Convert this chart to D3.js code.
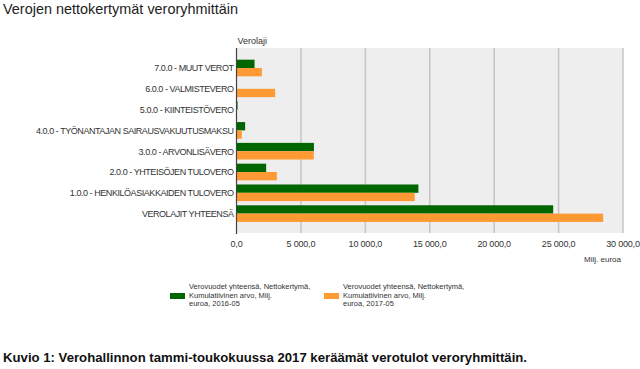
<!DOCTYPE html>
<html>
<head>
<meta charset="utf-8">
<script src="https://cdn.jsdelivr.net/npm/d3@7"></script>
<style>
  body { margin: 0; background: #fff; }
  svg { display: block; font-family: "Liberation Sans", Arial, sans-serif; }
</style>
</head>
<body>
<div id="chart"></div>
<script>
// categories, top to bottom
const categories = [
  "7.0.0 - MUUT VEROT",
  "6.0.0 - VALMISTEVERO",
  "5.0.0 - KIINTEISTÖVERO",
  "4.0.0 - TYÖNANTAJAN SAIRAUSVAKUUTUSMAKSU",
  "3.0.0 - ARVONLISÄVERO",
  "2.0.0 - YHTEISÖJEN TULOVERO",
  "1.0.0 - HENKILÖASIAKKAIDEN TULOVERO",
  "VEROLAJIT YHTEENSÄ"
];
const values2016 = [1400, 0, 80, 670, 6010, 2300, 14120, 24580];
const values2017 = [1970, 3000, 40, 410, 6000, 3130, 13830, 28460];
const xTicks = [0, 5000, 10000, 15000, 20000, 25000, 30000];
const seriesNames = [
  ["Verovuodet yhteensä, Nettokertymä,", "Kumulatiivinen arvo, Milj.", "euroa, 2016-05"],
  ["Verovuodet yhteensä, Nettokertymä,", "Kumulatiivinen arvo, Milj.", "euroa, 2017-05"]
];
const colors = ["#006600", "#ff9933"];

const width = 640, height = 369;
const plot = { left: 236.5, right: 623, top: 48, bottom: 233 };

const svg = d3.select("#chart").append("svg")
  .attr("width", width).attr("height", height);

svg.append("text")
  .attr("x", 3).attr("y", 14)
  .attr("font-size", 15).attr("fill", "#222")
  .attr("textLength", 235).attr("lengthAdjust", "spacingAndGlyphs")
  .text("Verojen nettokertymät veroryhmittäin");

const x = d3.scaleLinear().domain([0, 30000]).range([plot.left, plot.right]);
const y = d3.scaleBand().domain(categories)
  .range([plot.top + 9.6, plot.bottom - 9]).paddingInner(0.2).paddingOuter(0.1);
const sub = d3.scaleBand().domain([0, 1]).range([0, y.bandwidth()]);

// plot background
svg.append("rect")
  .attr("x", plot.left).attr("y", plot.top)
  .attr("width", plot.right - plot.left).attr("height", plot.bottom - plot.top)
  .attr("fill", "#eeeeee");

// gridlines
svg.append("g").selectAll("line")
  .data(xTicks.slice(1))
  .join("line")
  .attr("x1", d => x(d)).attr("x2", d => x(d))
  .attr("y1", plot.top).attr("y2", plot.bottom)
  .attr("stroke", "#c6c6c6").attr("stroke-width", 1.5);

// bars
const groups = svg.append("g").selectAll("g")
  .data(categories)
  .join("g")
  .attr("transform", d => `translate(0,${y(d)})`);

[values2016, values2017].forEach((vals, s) => {
  groups.append("rect")
    .attr("x", x(0))
    .attr("y", sub(s))
    .attr("width", (d, i) => x(vals[i]) - x(0))
    .attr("height", sub.bandwidth())
    .attr("fill", colors[s]);
});

// y axis line
svg.append("line")
  .attr("x1", plot.left).attr("x2", plot.left)
  .attr("y1", plot.top).attr("y2", plot.bottom + 1)
  .attr("stroke", "#444").attr("stroke-width", 1.2);

// category labels
svg.append("g").selectAll("text")
  .data(categories)
  .join("text")
  .attr("x", plot.left - 3)
  .attr("y", d => y(d) + y.bandwidth() / 2 + 3.3)
  .attr("text-anchor", "end")
  .attr("font-size", 9).attr("letter-spacing", -0.45).attr("fill", "#333")
  .text(d => d);

svg.append("text")
  .attr("x", plot.left + 1).attr("y", 44)
  .attr("font-size", 9).attr("fill", "#333")
  .text("Verolaji");

// x tick labels
const fmt = d => d3.format(",.1f")(d).replace(/,/g, " ").replace(".", ",");
svg.append("g").selectAll("text")
  .data(xTicks)
  .join("text")
  .attr("x", d => x(d))
  .attr("y", 247)
  .attr("text-anchor", "middle")
  .attr("font-size", 9).attr("letter-spacing", -0.2).attr("fill", "#333")
  .text(fmt);

svg.append("text")
  .attr("x", 621).attr("y", 262)
  .attr("text-anchor", "end")
  .attr("font-size", 8).attr("fill", "#333")
  .text("Milj. euroa");

// legend
const legendX = [170, 324];
seriesNames.forEach((lines, s) => {
  const g = svg.append("g").attr("transform", `translate(${legendX[s]},0)`);
  g.append("rect").attr("x", 0).attr("y", 293).attr("width", 15).attr("height", 6)
    .attr("fill", colors[s]);
  g.selectAll("text").data(lines).join("text")
    .attr("x", 19).attr("y", (d, i) => 289 + i * 8.5)
    .attr("font-size", 7.5).attr("fill", "#333")
    .text(d => d);
});

// caption
svg.append("text")
  .attr("x", 3).attr("y", 362)
  .attr("font-family", "'Liberation Sans Narrow', 'Liberation Sans', Arial, sans-serif")
  .attr("font-weight", "bold").attr("font-size", 12.5).attr("fill", "#111")
  .attr("textLength", 524).attr("lengthAdjust", "spacingAndGlyphs")
  .text("Kuvio 1: Verohallinnon tammi-toukokuussa  2017 keräämät verotulot veroryhmittäin.");
</script>
</body>
</html>
